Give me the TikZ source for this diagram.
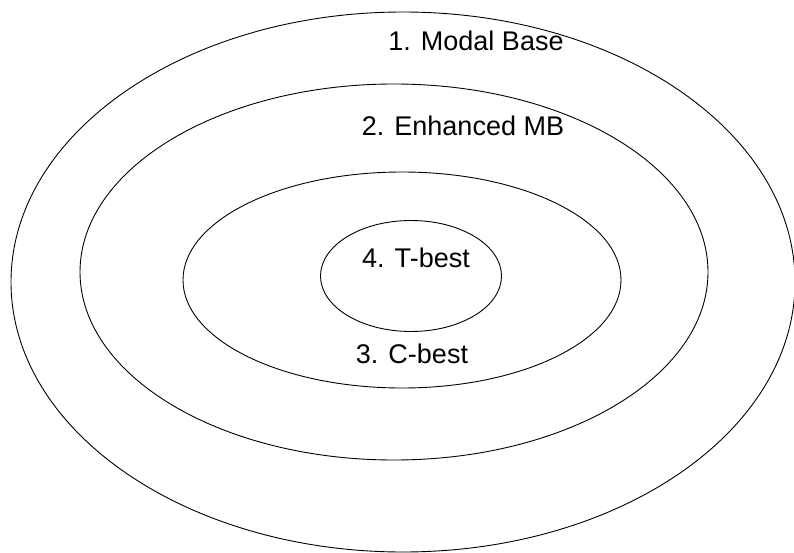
\documentclass[tikz,border=0pt]{standalone}
\usepackage{fontspec}
\setmainfont{Liberation Sans}
\usetikzlibrary{shapes.geometric}

\begin{document}
\begin{tikzpicture}[x=1pt,y=-1pt,
 ring/.style={draw,ellipse,inner sep=0pt,line width=0.9pt},
 lbl/.style={anchor=base,inner sep=0pt,font=\fontsize{27}{32}\selectfont}]
 \useasboundingbox (0,0) rectangle (794,553);
 % nested regions, outermost first
 \node[ring,minimum width=784pt,minimum height=540pt] (modal) at (403,282) {};
 \node[ring,minimum width=628pt,minimum height=376pt] (enh) at (394,272) {};
 \node[ring,minimum width=438pt,minimum height=216pt] (cbest) at (402,280) {};
 \node[ring,minimum width=181pt,minimum height=111pt] (tbest) at (411,276) {};
 % labels
 \node[lbl] (lmodal) at (476,51) {1. Modal Base};
 \node[lbl] (lenh) at (463,136) {2. Enhanced MB};
 \node[lbl] (ltbest) at (416,267) {4. T-best};
 \node[lbl] (lcbest) at (412,363) {3. C-best};
\end{tikzpicture}
\end{document}
